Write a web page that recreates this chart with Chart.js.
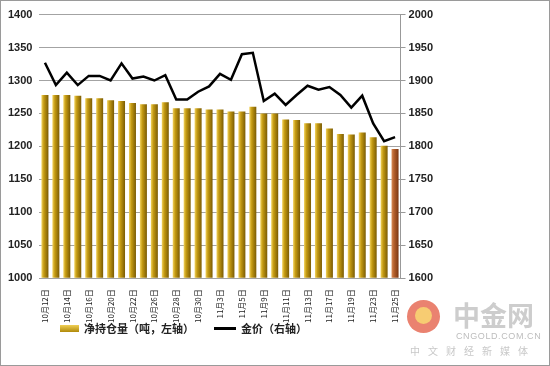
<!DOCTYPE html>
<html>
<head>
<meta charset="utf-8">
<script src="https://cdn.jsdelivr.net/npm/chart.js@4"></script>
<style>
  html, body { margin: 0; padding: 0; background: #fff; }
  #wrap { position: relative; width: 550px; height: 366px; box-sizing: border-box; border: 1px solid #9a9a9a; overflow: hidden; }
  #chart { position: absolute; left: 0; top: 0; }
  .legend { position: absolute; top: 319px; font: bold 11px "Noto Sans CJK SC", sans-serif; color: #222; display: flex; align-items: center; white-space: nowrap; }
  .legend .sw { display: inline-block; margin-right: 5px; }
  #wm { position: absolute; left: 405px; top: 298px; width: 140px; height: 66px; white-space: nowrap; }
  #wm .logo { position: absolute; left: 1px; top: 1px; width: 33px; height: 33px; border-radius: 50%; background: #ea8270; }
  #wm .logo i { position: absolute; left: 8px; top: 7px; width: 17px; height: 17px; border-radius: 50%; background: #f7cc72; }
  #wm .big { position: absolute; left: 47px; top: 0; font: bold 27px "Noto Sans CJK SC", sans-serif; color: #cdcdcd; line-height: 32px; }
  #wm .en { position: absolute; left: 50px; top: 32px; font: 9px "Liberation Sans", sans-serif; color: #bdbdbd; letter-spacing: 0.6px; }
  #wm .cn { position: absolute; left: 4px; top: 44px; font: 10px "Noto Sans CJK SC", sans-serif; color: #c8c8c8; letter-spacing: 8px; }
</style>
</head>
<body>
<div id="wrap">
  <canvas id="chart" width="548" height="364"></canvas>
  <div class="legend" style="left:59px"><span class="sw" style="width:19px;height:7px;background:linear-gradient(#f0cf55,#b08a0a)"></span>净持仓量（吨，左轴）</div>
  <div class="legend" style="left:213px"><span class="sw" style="width:22px;height:3px;background:#000"></span>金价（右轴）</div>
  <div id="wm">
    <div class="logo"><i></i></div>
    <div class="big">中金网</div>
    <div class="en">CNGOLD.COM.CN</div>
    <div class="cn">中文财经新媒体</div>
  </div>
</div>
<script>
// trading days, 10/12 - 11/25
const dates = ['10月12日','10月13日','10月14日','10月15日','10月16日','10月19日','10月20日','10月21日','10月22日','10月23日',
  '10月26日','10月27日','10月28日','10月29日','10月30日','11月2日','11月3日','11月4日','11月5日','11月6日',
  '11月9日','11月10日','11月11日','11月12日','11月13日','11月16日','11月17日','11月18日','11月19日','11月20日',
  '11月23日','11月24日','11月25日'];

// net holdings (tonnes, left axis)
const holdings = [1278, 1278, 1278, 1277, 1273, 1273, 1270, 1269, 1266, 1264,
  1264, 1267, 1258, 1258, 1258, 1256, 1256, 1253, 1253, 1260,
  1250, 1250, 1241, 1240, 1235, 1235, 1227, 1219, 1218, 1221,
  1214, 1201, 1196];

// gold price (right axis)
const goldPrice = [1927, 1893, 1912, 1893, 1907, 1907, 1900, 1926, 1903, 1906,
  1900, 1908, 1871, 1871, 1883, 1891, 1910, 1901, 1940, 1942,
  1869, 1880, 1863, 1878, 1892, 1886, 1890, 1878, 1859, 1877,
  1835, 1808, 1814];

const leftTicks = [1000, 1050, 1100, 1150, 1200, 1250, 1300, 1350, 1400];
const rightTicks = [1600, 1650, 1700, 1750, 1800, 1850, 1900, 1950, 2000];

const BAR_PCT = 0.64;
const tickFont = { family: '"Liberation Sans", Arial, sans-serif', size: 11, weight: 'bold' };

function barFill(ctx) {
    const chart = ctx.chart;
    const area = chart.chartArea;
    const last = ctx.dataIndex === holdings.length - 1;
    if (!area || ctx.dataIndex === undefined) return last ? '#a85a2a' : '#b8900f';
    const x = chart.scales.x.getPixelForValue(ctx.dataIndex);
    const w = area.width / dates.length * BAR_PCT;
    const g = chart.ctx.createLinearGradient(x - w / 2, 0, x + w / 2, 0);
    if (last) {
        g.addColorStop(0, '#d88a55');
        g.addColorStop(0.35, '#b4602c');
        g.addColorStop(1, '#7a3612');
    } else {
        g.addColorStop(0, '#f2d35e');
        g.addColorStop(0.35, '#c49a12');
        g.addColorStop(1, '#7a5b04');
    }
    return g;
}

new Chart(document.getElementById('chart'), {
    data: {
        labels: dates,
        datasets: [{
            type: 'line',
            label: '金价（右轴）',
            data: goldPrice,
            yAxisID: 'y2',
            borderColor: '#000',
            borderWidth: 2.5,
            pointRadius: 0,
            tension: 0,
            order: 0
        }, {
            type: 'bar',
            label: '净持仓量（吨，左轴）',
            data: holdings,
            yAxisID: 'y',
            base: 1000,
            backgroundColor: barFill,
            barPercentage: BAR_PCT,
            categoryPercentage: 1,
            order: 1
        }]
    },
    options: {
        responsive: false,
        animation: false,
        layout: { padding: { left: 0, right: 113, top: 0, bottom: 39 } },
        plugins: { legend: { display: false }, tooltip: { enabled: false } },
        scales: {
            x: {
                grid: { display: false },
                border: { display: false },
                ticks: {
                    autoSkip: false,
                    maxRotation: 90,
                    minRotation: 90,
                    padding: 3,
                    color: '#222',
                    font: { family: '"Noto Sans CJK SC", sans-serif', size: 8 },
                    callback: (v, i) => (i % 2 === 0 ? dates[i] : '')
                }
            },
            y: {
                position: 'left',
                min: 1000,
                max: 1400,
                afterBuildTicks: axis => { axis.ticks = leftTicks.map(v => ({ value: v })); },
                grid: { color: '#a3a3a3', lineWidth: 1, drawTicks: false },
                border: { display: false },
                ticks: { color: '#222', font: tickFont, padding: 7, callback: v => String(v) }
            },
            y2: {
                position: 'right',
                min: 1600,
                max: 2000,
                afterBuildTicks: axis => { axis.ticks = rightTicks.map(v => ({ value: v })); },
                grid: { drawOnChartArea: false, color: '#999', tickLength: 5 },
                border: { display: true, color: '#999' },
                ticks: { color: '#222', font: tickFont, padding: 3, callback: v => String(v) }
            }
        }
    }
});
</script>
</body>
</html>
